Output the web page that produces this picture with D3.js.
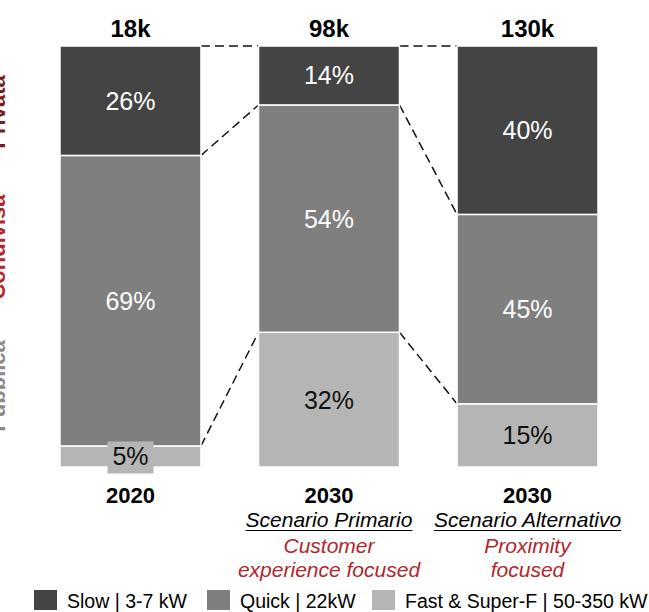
<!DOCTYPE html>
<html>
<head>
<meta charset="utf-8">
<script src="https://cdn.jsdelivr.net/npm/d3@7"></script>
<style>
  html, body { margin: 0; padding: 0; background: #fff; }
  svg { display: block; }
</style>
</head>
<body>
<svg id="chart" width="649" height="612"></svg>
<script>
// Charging points mix by power class, 2020 vs 2030 scenarios
const scenarios = ["2020", "2030 Primario", "2030 Alternativo"];
const totals = ["18k", "98k", "130k"];
const years = ["2020", "2030", "2030"];
const scenarioNames = ["", "Scenario Primario", "Scenario Alternativo"];
const focusLines = [[], ["Customer", "experience focused"], ["Proximity", "focused"]];

const slow = [26, 14, 40];
const quick = [69, 54, 45];
const fast = [5, 32, 15];

const seriesKeys = ["fast", "quick", "slow"];
const seriesNames = ["Slow | 3-7 kW", "Quick | 22kW", "Fast & Super-F | 50-350 kW"];
const sideLabels = ["Privata", "Condivisa", "Pubblica"];

const colors = { slow: "#444444", quick: "#7f7f7f", fast: "#b5b5b5" };
const labelColors = { slow: "#ffffff", quick: "#ffffff", fast: "#111111" };
const FONT = "'Liberation Sans', Arial, Helvetica, sans-serif";

const rows = scenarios.map((s, i) => ({ scenario: s, slow: slow[i], quick: quick[i], fast: fast[i] }));

const svg = d3.select("#chart").style("font-family", FONT);

const x = d3.scaleBand().domain(scenarios).range([60, 598]).paddingInner(0.29).paddingOuter(0);
const y = d3.scaleLinear().domain([0, 100]).range([467, 46]);
const bw = x.bandwidth();

const stacked = d3.stack().keys(seriesKeys)(rows);

// Side labels (rotated, running off the left edge)
const sideY = [112, 247, 386];
const sideColors = ["#7a1c1c", "#b3262b", "#8a8a8a"];
svg.append("g").selectAll("text").data(sideLabels).join("text")
  .attr("transform", (d, i) => `translate(5,${sideY[i]}) rotate(-90)`)
  .attr("text-anchor", "middle")
  .attr("font-size", 22)
  .attr("font-weight", "bold")
  .attr("fill", (d, i) => sideColors[i])
  .text(d => d);

// Dashed connectors between adjacent bars at each stack boundary
const conn = svg.append("g")
  .attr("stroke", "#111")
  .attr("stroke-width", 1.5)
  .attr("stroke-dasharray", "9,5")
  .attr("fill", "none");
stacked.forEach(layer => {
  for (let i = 0; i < scenarios.length - 1; i++) {
    conn.append("line")
      .attr("x1", x(scenarios[i]) + bw)
      .attr("y1", y(layer[i][1]))
      .attr("x2", x(scenarios[i + 1]))
      .attr("y2", y(layer[i + 1][1]));
  }
});

// Bar segments
const layers = svg.append("g").selectAll("g").data(stacked).join("g")
  .attr("fill", d => colors[d.key]);
layers.selectAll("rect").data(d => d.map(v => Object.assign({ key: d.key }, v))).join("rect")
  .attr("x", d => x(d.data.scenario))
  .attr("width", bw)
  .attr("y", d => y(d[1]))
  .attr("height", d => y(d[0]) - y(d[1]))
  .attr("stroke", "#ffffff")
  .attr("stroke-width", 1.5);

// Segment value labels
const labels = svg.append("g");
stacked.forEach(layer => {
  layer.forEach(d => {
    const v = d[1] - d[0];
    const cx = x(d.data.scenario) + bw / 2;
    const cy = (y(d[0]) + y(d[1])) / 2;
    if (y(d[0]) - y(d[1]) < 30) {
      labels.append("rect")
        .attr("x", cx - 23).attr("y", cy - 15)
        .attr("width", 46).attr("height", 32)
        .attr("fill", colors[layer.key]);
    }
    labels.append("text")
      .attr("x", cx).attr("y", cy + 9)
      .attr("text-anchor", "middle")
      .attr("font-size", 25)
      .attr("fill", labelColors[layer.key])
      .text(v + "%");
  });
});

// Totals above bars
svg.append("g").selectAll("text").data(scenarios).join("text")
  .attr("x", d => x(d) + bw / 2)
  .attr("y", 37)
  .attr("text-anchor", "middle")
  .attr("font-size", 24)
  .attr("font-weight", "bold")
  .attr("fill", "#000")
  .text((d, i) => totals[i]);

// Category labels under bars
const cat = svg.append("g").attr("text-anchor", "middle");
scenarios.forEach((s, i) => {
  const cx = x(s) + bw / 2;
  cat.append("text")
    .attr("x", cx).attr("y", 503)
    .attr("font-size", 22).attr("font-weight", "bold").attr("fill", "#000")
    .text(years[i]);
  if (scenarioNames[i]) {
    const t = cat.append("text")
      .attr("x", cx).attr("y", 527)
      .attr("font-size", 21).attr("font-style", "italic").attr("fill", "#000")
      .text(scenarioNames[i]);
    const w = t.node().getComputedTextLength();
    cat.append("line")
      .attr("x1", cx - w / 2).attr("x2", cx + w / 2)
      .attr("y1", 530.5).attr("y2", 530.5)
      .attr("stroke", "#000").attr("stroke-width", 1.2);
  }
  focusLines[i].forEach((line, j) => {
    cat.append("text")
      .attr("x", cx).attr("y", 553 + j * 24)
      .attr("font-size", 21).attr("font-style", "italic").attr("fill", "#b3262b")
      .text(line);
  });
});

// Legend
const legend = svg.append("g");
const legendKeys = ["slow", "quick", "fast"];
const legendX = [34, 207, 372];
legendKeys.forEach((k, i) => {
  legend.append("rect")
    .attr("x", legendX[i]).attr("y", 590)
    .attr("width", 23).attr("height", 20)
    .attr("fill", colors[k]);
  legend.append("text")
    .attr("x", legendX[i] + 33).attr("y", 608)
    .attr("font-size", 19.5).attr("fill", "#000")
    .text(seriesNames[i]);
});
</script>
</body>
</html>
